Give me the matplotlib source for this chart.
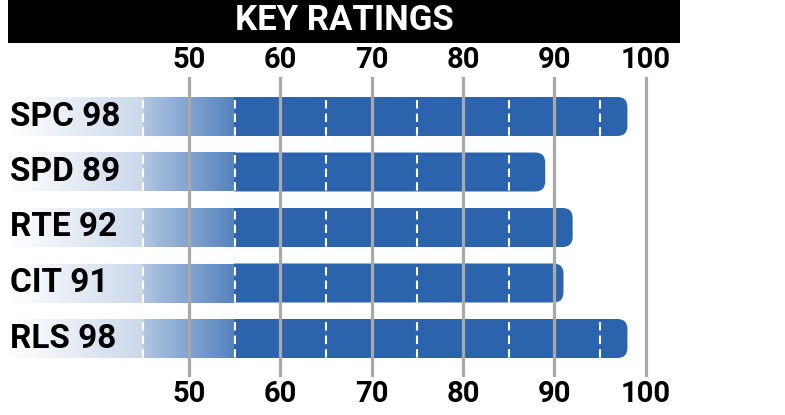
import numpy as np
import matplotlib
matplotlib.use('Agg')
from matplotlib import pyplot as plt
from matplotlib.patches import PathPatch, Rectangle
from matplotlib.path import Path

plt.rcParams['font.family'] = ['Roboto', 'DejaVu Sans']
plt.rcParams['font.weight'] = 'bold'

# 数据
teams = ['SPC', 'SPD', 'RTE', 'CIT', 'RLS']
ratings = [98, 89, 92, 91, 98]
ticks = [50, 60, 70, 80, 90, 100]
dash_marks = [45, 55, 65, 75, 85, 95]
title = 'KEY RATINGS'

blue = np.array([43, 99, 173]) / 255
W, H = 785, 415
fig = plt.figure(figsize=(W / 100, H / 100), dpi=100)

# 坐标轴: 50 -> 189px, 每单位 9.134px
px_per_unit = 9.134
x0 = 50 - 189 / px_per_unit
x1 = x0 + W / px_per_unit
ax_top, ax_bot = 77, 377
row_px = 55.5
ax = fig.add_axes([0, (H - ax_bot) / H, 1, (ax_bot - ax_top) / H])
y_top = -39.5 / row_px
y_bottom = y_top + (ax_bot - ax_top) / row_px

bar_h = 39 / row_px
bar_start = x0 + 8 / px_per_unit
solid_from = 55
r_x = 10 / px_per_unit
r_y = 10 / row_px

# 渐变: 白 -> 蓝 (左侧淡出)
gx = np.linspace(bar_start, solid_from, 241)
mid = (gx[:-1] + gx[1:]) / 2
alpha = np.interp(mid, [bar_start, 44.9, 45.1, 54.9, 55], [0.0, 0.25, 0.38, 0.8, 1.0])
grad = 1 - alpha[:, None] * (1 - blue[None, :])
grad = grad[None, :, :]


def right_round_bar(left, right, yc, h):
    # 右侧圆角的条形
    top, bot = yc - h / 2, yc + h / 2
    verts = [(left, top), (right - r_x, top), (right, top), (right, top + r_y),
             (right, bot - r_y), (right, bot), (right - r_x, bot), (left, bot), (left, top)]
    codes = [Path.MOVETO, Path.LINETO, Path.CURVE3, Path.CURVE3,
             Path.LINETO, Path.CURVE3, Path.CURVE3, Path.LINETO, Path.CLOSEPOLY]
    return Path(verts, codes)


for i, (t, v) in enumerate(zip(teams, ratings)):
    ax.pcolormesh(gx, [i - bar_h / 2, i + bar_h / 2], grad, shading='flat',
                  antialiased=False, edgecolors='none', zorder=1)
    ax.add_patch(PathPatch(right_round_bar(solid_from - 0.05, v, i, bar_h),
                           facecolor=blue, edgecolor='none', zorder=1))
    xs = [d for d in dash_marks if d < v - 1]
    ax.vlines(xs, i - bar_h / 2 + 3 / row_px, i + bar_h / 2, colors='white',
              linewidth=1.5, linestyles=(0, (4.1, 2.4)), zorder=1.5)
    ax.text(bar_start + 2 / px_per_unit, i, f'{t} {v}', ha='left', va='center',
            fontsize=24, color='black', zorder=3)

ax.set_xlim(x0, x1)
ax.set_ylim(y_bottom, y_top)
ax.set_xticks(ticks)
ax.set_xticklabels([str(t) for t in ticks])
ax.set_yticks([])
ax.tick_params(axis='x', top=True, labeltop=True, bottom=True, labelbottom=True,
               length=0, labelsize=21, pad=2)
ax.grid(axis='x', color='#a9a9a9', linewidth=2.3)
ax.set_axisbelow(False)
for s in ax.spines.values():
    s.set_visible(False)

# 标题栏
fig.patches.append(Rectangle((8 / W, 1 - 43 / H), 672 / W, 43 / H,
                             transform=fig.transFigure, facecolor='black',
                             edgecolor='none'))
fig.text(344 / W, 1 - 21 / H, title, ha='center', va='center', color='white',
         fontsize=25)

fig.savefig('out.png', dpi=100)
